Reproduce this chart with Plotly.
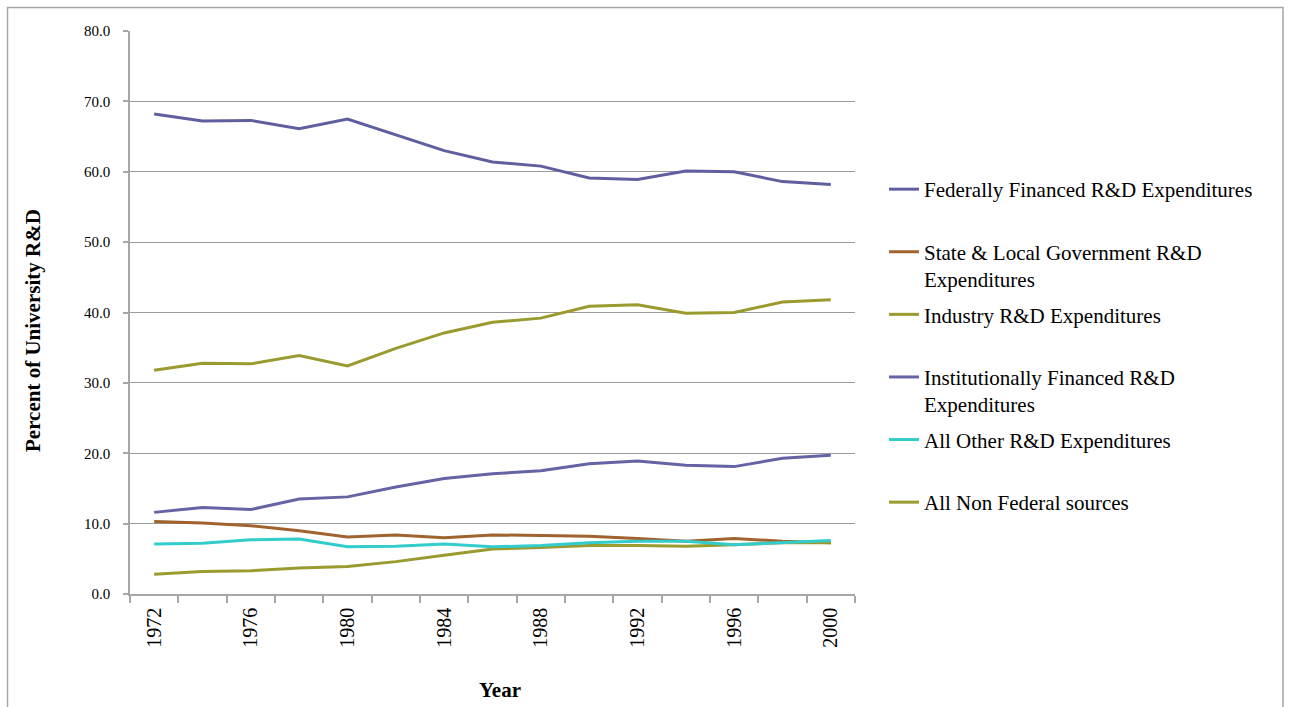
import plotly.graph_objects as go

years = [1972, 1974, 1976, 1978, 1980, 1982, 1984, 1986, 1988, 1990, 1992, 1994, 1996, 1998, 2000]

federal = [68.2, 67.2, 67.3, 66.1, 67.5, 65.2, 63.0, 61.4, 60.8, 59.1, 58.9, 60.1, 60.0, 58.6, 58.2]
state_local = [10.3, 10.1, 9.7, 9.0, 8.1, 8.4, 8.0, 8.4, 8.3, 8.2, 7.9, 7.5, 7.9, 7.5, 7.3]
industry = [2.8, 3.2, 3.3, 3.7, 3.9, 4.6, 5.5, 6.4, 6.6, 6.9, 6.9, 6.8, 7.0, 7.3, 7.3]
institutional = [11.6, 12.3, 12.0, 13.5, 13.8, 15.2, 16.4, 17.1, 17.5, 18.5, 18.9, 18.3, 18.1, 19.3, 19.7]
all_other = [7.1, 7.2, 7.7, 7.8, 6.7, 6.8, 7.1, 6.7, 6.9, 7.3, 7.5, 7.5, 7.0, 7.3, 7.6]
non_federal = [31.8, 32.8, 32.7, 33.9, 32.4, 34.9, 37.1, 38.6, 39.2, 40.9, 41.1, 39.9, 40.0, 41.5, 41.8]

series = [
    ("Federally Financed R&D Expenditures<br> ", federal, "#5F5F9F"),
    ("State & Local Government R&D<br>Expenditures", state_local, "#A0632E"),
    ("Industry R&D Expenditures<br> ", industry, "#9A9A2E"),
    ("Institutionally Financed R&D<br>Expenditures", institutional, "#6464A4"),
    ("All Other R&D Expenditures<br> ", all_other, "#33CCCC"),
    ("All Non Federal sources<br> ", non_federal, "#9A9A2E"),
]

label_years = [1972, 1976, 1980, 1984, 1988, 1992, 1996, 2000]
boundaries = list(range(1971, 2002, 2))

FONT = "Liberation Serif, Times New Roman, serif"

fig = go.Figure()
for i, (name, vals, color) in enumerate(series):
    fig.add_trace(go.Scatter(
        x=years, y=vals, name=name, mode="lines",
        line=dict(color=color, width=3),
        legendgroup=f"g{i}",
    ))

L, R, T, B = 130, 435, 31, 113
W, H = 1290, 707
pw = W - L - R
ph = H - T - B

fig.update_layout(
    width=W, height=H,
    margin=dict(l=L, r=R, t=T, b=B, pad=0),
    paper_bgcolor="white", plot_bgcolor="white",
    font=dict(family=FONT, color="black"),
    showlegend=True,
    legend=dict(
        x=(884 - L) / pw, xanchor="left",
        y=(H - B - 169) / ph, yanchor="top",
        font=dict(family=FONT, size=21, color="black"),
        valign="top",
        tracegroupgap=5,
        bgcolor="rgba(0,0,0,0)",
    ),
    xaxis=dict(
        range=[1971, 2001],
        tickmode="array", tickvals=label_years, ticktext=[str(y) for y in label_years],
        tickangle=-90, ticks="", ticklabelstandoff=4,
        tickfont=dict(family=FONT, size=20, color="black"),
        showline=True, linecolor="#A6A6A6", linewidth=1.5,
        showgrid=False, zeroline=False,
        minor=dict(tickmode="array", tickvals=boundaries, ticks="outside",
                   ticklen=7, tickcolor="#A6A6A6", tickwidth=1.5, showgrid=False),
    ),
    yaxis=dict(
        range=[0, 80], dtick=10, tick0=0, tickformat=".1f",
        ticks="outside", ticklen=5, tickcolor="#A6A6A6", tickwidth=1.5,
        ticklabelstandoff=10,
        tickfont=dict(family=FONT, size=15, color="black"),
        showline=True, linecolor="#A6A6A6", linewidth=1.5,
        showgrid=True, gridcolor="#9A9A9A", gridwidth=1,
        zeroline=False,
    ),
    annotations=[
        dict(text="<b>Percent of University R&D</b>", textangle=-90,
             xref="paper", yref="paper",
             x=(33 - L) / pw, y=(H - B - 331) / ph,
             xanchor="center", yanchor="middle", showarrow=False,
             font=dict(family=FONT, size=21, color="black")),
        dict(text="<b>Year</b>",
             xref="paper", yref="paper",
             x=(500 - L) / pw, y=(H - B - 690) / ph,
             xanchor="center", yanchor="middle", showarrow=False,
             font=dict(family=FONT, size=21, color="black")),
    ],
    shapes=[
        dict(type="rect", xref="paper", yref="paper",
             x0=(7.5 - L) / pw, x1=(1283 - L) / pw,
             y0=(H - B - 740) / ph, y1=(H - B - 7.5) / ph,
             line=dict(color="#A6A6A6", width=1.5), fillcolor="rgba(0,0,0,0)",
             layer="below"),
    ],
)

fig.write_html("out.html")
